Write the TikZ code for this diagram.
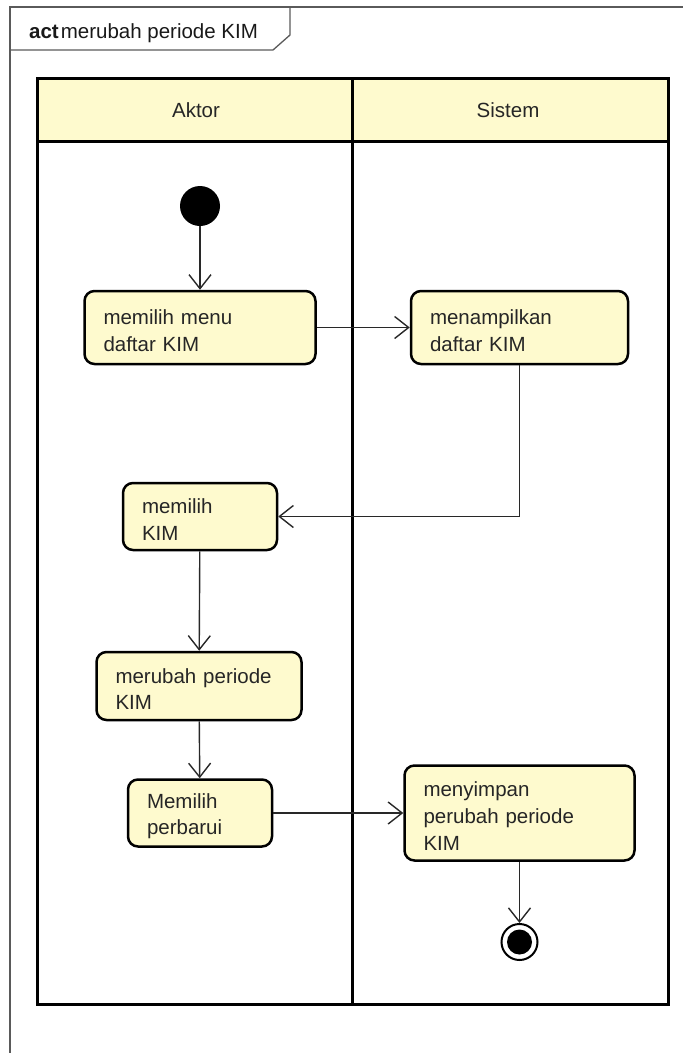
\documentclass[tikz,border=0pt]{standalone}
\usepackage{fontspec}
\setmainfont{Liberation Sans}
\usetikzlibrary{arrows.meta}
\definecolor{actfill}{RGB}{254,250,206}
\definecolor{lineclr}{RGB}{40,40,40}
\definecolor{frameclr}{RGB}{90,90,90}
\begin{document}
\begin{tikzpicture}[x=1pt,y=-1pt,
  act/.style={draw=black, line width=2.5pt, rounded corners=10pt, fill=actfill, align=left,
    inner xsep=19pt, inner ysep=0pt, font=\fontsize{20.5}{26.6}\selectfont, text=black!85,
    execute at begin node={\rule{0pt}{21pt}}},
  lanelbl/.style={font=\fontsize{20.5}{24}\selectfont, text=black!85, inner sep=0pt},
  flow/.style={draw=lineclr, line width=1.4pt, -{Straight Barb[length=14pt,width=22pt,line width=1.4pt]}},
]
\useasboundingbox (0,0) rectangle (683,1053);
% outer frame
\draw[frameclr, line width=1.3pt] (683,7) -- (10,7) -- (10,1053);
\draw[frameclr, line width=1.3pt] (10,50) -- (273,50) -- (290,35) -- (290,7);
\node[anchor=base west, inner sep=0pt, font=\fontsize{20.5}{24}\selectfont, text=black!90] (title) at (29,38) {\textbf{act}\kern2pt merubah periode KIM};
% swimlanes
\draw[line width=3pt, fill=actfill] (37,78) rectangle (668,141);
\draw[line width=3pt] (37,78) rectangle (668,1004);
\draw[line width=3pt] (352,78) -- (352,1004);
\node[lanelbl] (hA) at (196,110) {Aktor};
\node[lanelbl] (hS) at (508,110) {Sistem};
% nodes
\node[circle, fill=black, minimum size=40pt, inner sep=0pt] (start) at (200,206) {};
\node[act, text width=193pt, minimum height=73pt] (n1) at (200,327.5) {memilih menu\\daftar KIM};
\node[act, text width=179pt, minimum height=73pt] (n2) at (519.5,327.5) {menampilkan\\daftar KIM};
\node[act, text width=116pt, minimum height=67pt] (n3) at (200,516.5) {memilih\\KIM};
\node[act, text width=167pt, minimum height=68pt] (n4) at (199,686) {merubah periode\\KIM};
\node[act, text width=106pt, minimum height=67pt] (n5) at (200,813) {Memilih\\perbarui};
\node[act, text width=192pt, minimum height=95pt] (n6) at (519.5,813) {menyimpan\\perubah periode\\KIM};
\node[circle, draw=black, line width=2pt, minimum size=36pt, inner sep=0pt] (end) at (519.5,942) {};
\node[circle, fill=black, minimum size=25pt, inner sep=0pt] (endin) at (end) {};
% flows
\draw[flow] (start) -- (n1);
\draw[flow] (n1) -- (n2);
\draw[flow] (n2.south) |- (n3.east);
\draw[flow] (n3) -- (n4);
\draw[flow] (n4) -- (n5);
\draw[flow] (n5) -- (n6);
\draw[flow] (n6) -- (end);
\end{tikzpicture}
\end{document}
